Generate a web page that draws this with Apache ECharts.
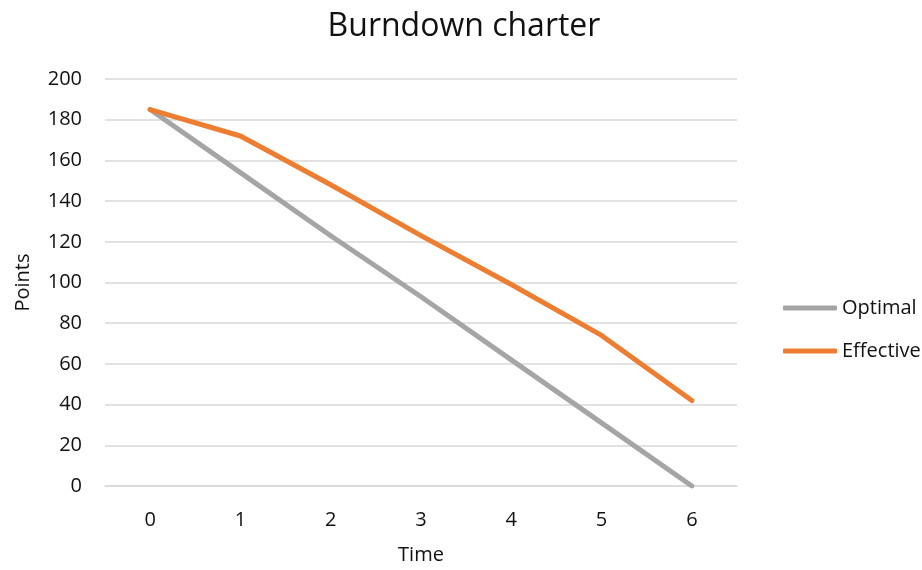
<!DOCTYPE html>
<html>
<head>
<meta charset="utf-8">
<script src="https://cdn.jsdelivr.net/npm/echarts@6/dist/echarts.min.js"></script>
<style>html,body{margin:0;padding:0;background:#fff;}#c{width:922px;height:570px;}</style>
</head>
<body>
<div id="c"></div>
<script>
const categories = ['0', '1', '2', '3', '4', '5', '6'];
const optimal = [185, 154, 123, 93, 62, 31, 0];
const effective = [185, 172, 148, 123, 99, 74, 42];
const yTicks = { min: 0, max: 200, interval: 20 };

const font = '"Open Sans", "Noto Sans", sans-serif';
const txt = '#111111';
const chart = echarts.init(document.getElementById('c'));
chart.setOption({
  animation: false,
  backgroundColor: '#fff',
  title: {
    text: 'Burndown charter',
    left: 459, top: 6, textAlign: 'center',
    textStyle: { fontFamily: font, fontSize: 32, fontWeight: 'normal', color: txt }
  },
  grid: { left: 105, right: 185, top: 79, bottom: 83, containLabel: false },
  legend: {
    orient: 'vertical', left: 778, top: 293, itemGap: 23,
    itemWidth: 54, itemHeight: 5, icon: 'roundRect',
    textStyle: { fontFamily: font, fontSize: 20, color: txt },
    data: ['Optimal', 'Effective']
  },
  xAxis: {
    type: 'category', data: categories, boundaryGap: true,
    name: 'Time', nameLocation: 'middle', nameGap: 59,
    nameTextStyle: { fontFamily: font, fontSize: 20, color: txt },
    axisLine: { show: true, lineStyle: { color: '#d9d9d9', width: 1.5 } },
    axisTick: { show: false },
    axisLabel: { fontFamily: font, fontSize: 20, color: txt, margin: 24 },
    splitLine: { show: false }
  },
  yAxis: {
    type: 'value', min: yTicks.min, max: yTicks.max, interval: yTicks.interval,
    name: 'Points', nameLocation: 'middle', nameGap: 72, nameRotate: 90,
    nameTextStyle: { fontFamily: font, fontSize: 20, color: txt },
    axisLine: { show: false }, axisTick: { show: false },
    axisLabel: { fontFamily: font, fontSize: 20, color: txt, margin: 23 },
    splitLine: { show: true, lineStyle: { color: '#d9d9d9', width: 1.5 } }
  },
  series: [
    { name: 'Optimal', type: 'line', data: optimal, showSymbol: false, symbol: 'none',
      color: '#A5A5A5', lineStyle: { width: 5, color: '#A5A5A5', cap: 'round', join: 'round' } },
    { name: 'Effective', type: 'line', data: effective, showSymbol: false, symbol: 'none',
      color: '#ED7D31', lineStyle: { width: 5, color: '#ED7D31', cap: 'round', join: 'round' } }
  ]
});
</script>
</body>
</html>
